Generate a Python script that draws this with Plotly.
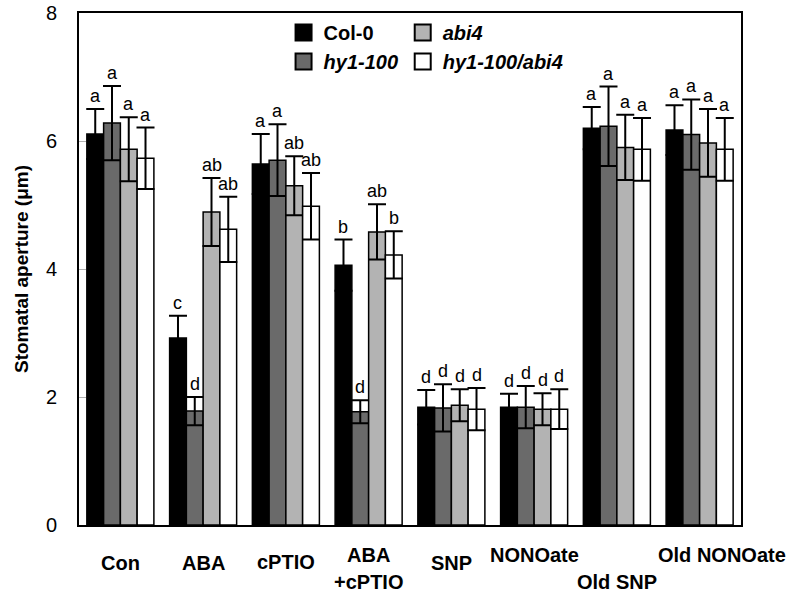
import plotly.graph_objects as go

categories = ["Con", "ABA", "cPTIO", "ABA+cPTIO", "SNP", "NONOate", "Old SNP", "Old NONOate"]
genotypes = ["Col-0", "hy1-100", "abi4", "hy1-100/abi4"]

col0 = [6.11, 2.92, 5.64, 4.06, 1.84, 1.84, 6.20, 6.17]
col0_err = [0.39, 0.35, 0.47, 0.40, 0.27, 0.21, 0.33, 0.39]
hy1 = [6.28, 1.78, 5.70, 1.77, 1.83, 1.84, 6.23, 6.10]
hy1_err = [0.58, 0.22, 0.56, 0.18, 0.37, 0.33, 0.62, 0.55]
abi4 = [5.87, 4.89, 5.30, 4.58, 1.87, 1.81, 5.90, 5.97]
abi4_err = [0.50, 0.53, 0.46, 0.43, 0.25, 0.25, 0.51, 0.53]
double = [5.73, 4.62, 4.98, 4.22, 1.81, 1.81, 5.87, 5.87]
double_err = [0.48, 0.51, 0.52, 0.37, 0.33, 0.31, 0.49, 0.49]

letters_col0 = ["a", "c", "a", "b", "d", "d", "a", "a"]
letters_hy1 = ["a", "d", "a", "d", "d", "d", "a", "a"]
letters_abi4 = ["a", "ab", "ab", "ab", "d", "d", "a", "a"]
letters_double = ["a", "ab", "ab", "b", "d", "d", "a", "a"]

y_ticks = [0, 2, 4, 6, 8]

means = [col0, hy1, abi4, double]
errs = [col0_err, hy1_err, abi4_err, double_err]
letters = [letters_col0, letters_hy1, letters_abi4, letters_double]
colors = ["#000000", "#6a6a6a", "#b3b3b3", "#ffffff"]
legend_names = ["<b>Col-0</b>", "<b><i>hy1-100</i></b>", "<b><i>abi4</i></b>", "<b><i>hy1-100/abi4</i></b>"]
legend_ids = ["legend", "legend", "legend2", "legend2"]

FONT = "Arial, 'Liberation Sans', sans-serif"
bar_w = 0.2025
xpos = list(range(len(categories)))

fig = go.Figure()
for j in range(4):
    xs = [i + (j - 1.5) * bar_w for i in xpos]
    fig.add_trace(go.Bar(
        x=xs, y=means[j], width=bar_w,
        marker=dict(color=colors[j], line=dict(color="black", width=1.5)),
        error_y=dict(type="data", array=errs[j], color="black", thickness=2, width=9),
        showlegend=False, name=genotypes[j],
    ))
    for i in xpos:
        fig.add_annotation(
            x=xs[i], y=means[j][i] + errs[j][i], text=letters[j][i],
            showarrow=False, yanchor="bottom", yshift=1,
            font=dict(family=FONT, size=18, color="black"),
        )

# legend entries
for j in range(4):
    fig.add_trace(go.Scatter(
        x=[None], y=[None], mode="markers", name=legend_names[j],
        marker=dict(symbol="square", size=16, color=colors[j], line=dict(color="black", width=2)),
        legend=legend_ids[j], showlegend=True,
    ))

# category labels (staggered as in the original); dy = centre in px below axis
label_lines = [
    ("Con", 0, 38, 0), ("ABA", 1, 38, 0), ("cPTIO", 2, 37, 0),
    ("ABA", 3, 30, 0), ("+cPTIO", 3, 57, 0), ("SNP", 4, 38, 0),
    ("NONOate", 5, 30, 0), ("Old SNP", 6, 57, 0), ("Old NONOate", 7, 30, 22),
]
for txt, ci, dy, xs_ in label_lines:
    fig.add_annotation(
        x=ci, xref="x", y=0, yref="paper", text="<b>" + txt + "</b>",
        showarrow=False, yanchor="middle", yshift=-dy, xshift=xs_,
        font=dict(family=FONT, size=20, color="black"),
    )

fig.update_layout(
    width=793, height=594,
    margin=dict(l=79, r=52, t=13, b=69, autoexpand=False),
    paper_bgcolor="white", plot_bgcolor="white",
    barmode="overlay",
    font=dict(family=FONT, color="black"),
    legend=dict(x=0.309, y=1.0, xanchor="left", yanchor="top", bgcolor="rgba(0,0,0,0)",
                font=dict(family=FONT, size=20, color="black"), itemsizing="trace",
                tracegroupgap=0),
    legend2=dict(x=0.489, y=1.0, xanchor="left", yanchor="top", bgcolor="rgba(0,0,0,0)",
                 font=dict(family=FONT, size=20, color="black"), itemsizing="trace",
                 tracegroupgap=0),
    xaxis=dict(range=[-0.5, 7.5], showticklabels=False, ticks="", showgrid=False, zeroline=False,
               showline=True, linecolor="black", linewidth=2, mirror=True, fixedrange=True,
               automargin=False),
    yaxis=dict(range=[0, 8], tickvals=y_ticks, ticks="inside", ticklen=7, tickcolor="#b0b0b0",
               tickwidth=1, showgrid=False, zeroline=False, showline=True, linecolor="black",
               linewidth=2, mirror=True, ticklabelstandoff=16, automargin=False,
               ticklabeloverflow="allow",
               tickfont=dict(family=FONT, size=20, color="black"),
               title=dict(text="<b>Stomatal aperture (μm)</b>", standoff=12,
                          font=dict(family=FONT, size=19, color="black"))),
)

# remove the browser's default 8px body margin so the figure fills the window
fig.write_html("out.html", config={"displayModeBar": False},
               post_script="document.body.style.margin='0';")
